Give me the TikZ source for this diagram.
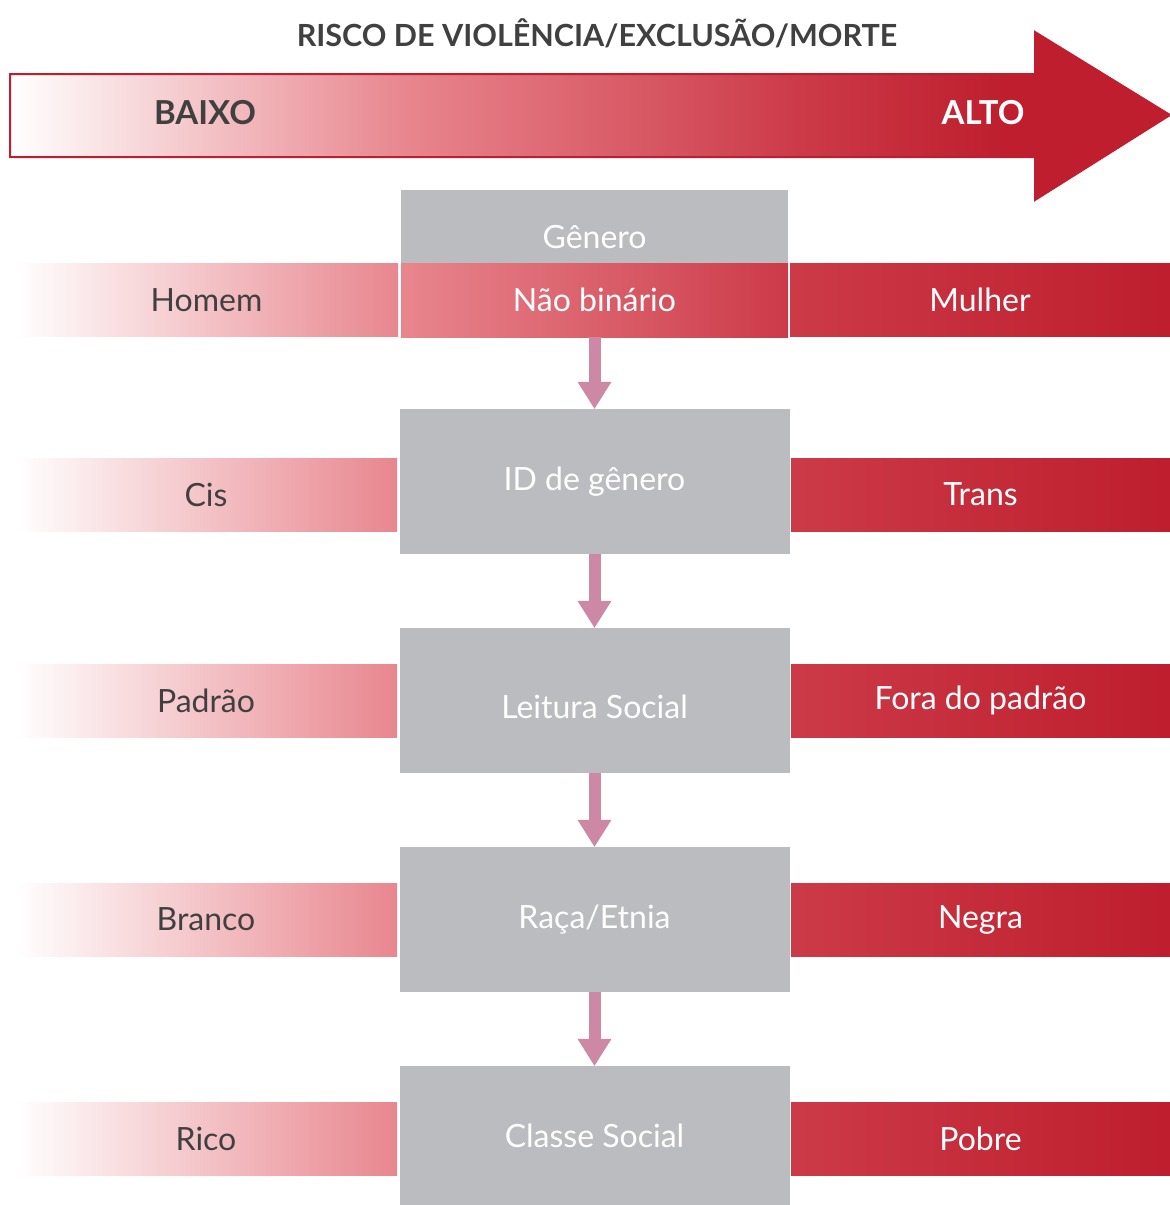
\documentclass[tikz,border=0pt]{standalone}
\usepackage{fontspec}
\setmainfont{Lato}
\usetikzlibrary{arrows.meta}

\definecolor{riscoA}{HTML}{E8868E}
\definecolor{riscoB}{HTML}{CC3A48}
\definecolor{riscoC}{HTML}{BE1E2D}
\definecolor{cinza}{HTML}{BBBCC0}
\definecolor{escuro}{HTML}{404040}
\definecolor{seta}{HTML}{CC88A5}

\pgfdeclarehorizontalshading{risco}{100bp}{color(0bp)=(white); color(25bp)=(white);
  color(42bp)=(riscoA); color(59bp)=(riscoB); color(68bp)=(riscoC); color(100bp)=(riscoC)}

\begin{document}
\begin{tikzpicture}[x=1pt, y=-1pt,
    every node/.style={inner sep=0pt, text=white, font=\fontsize{32}{38}\selectfont},
    caixa/.style={fill=cinza, minimum width=390pt, minimum height=145pt},
    baixo/.style={left color=white, right color=riscoA, minimum width=382pt, minimum height=73pt, text=escuro},
    meio/.style={left color=riscoA, right color=riscoB, minimum width=387pt, minimum height=74pt},
    alto/.style={left color=riscoB, right color=riscoC, minimum width=379pt, minimum height=73pt},
    fluxo/.style={draw=seta, line width=12pt, -{Triangle[width=34pt, length=27pt, line width=0pt]}}]
			\useasboundingbox (0,0) rectangle (1170,1205);

			% seta grande do risco
			\path[shading=risco, draw=riscoC, line width=2pt]
				(10,74) -- (1035,74) -- (1035,32) -- (1170,115) -- (1035,200) -- (1035,157) -- (10,157) -- cycle;
			\node[text=escuro, font=\fontsize{30.5}{36}\bfseries] (titulo) at (597,33) {RISCO DE VIOLÊNCIA/EXCLUSÃO/MORTE};
			\node[text=escuro, font=\fontsize{33}{38}\bfseries] (baixotxt) at (205,113) {BAIXO};
			\node[font=\fontsize{33}{38}\bfseries] (altotxt) at (983,113) {ALTO};

			% linha 1
			\node[fill=cinza, minimum width=387pt, text height=58pt, text depth=15pt] (genero) at (594.5,226.5) {Gênero};
			\node[meio] (naobin) at (594.5,300) {Não binário};
			\node[baixo, minimum width=383pt] (homem) at (206.5,300) {Homem};
			\node[alto, minimum width=380pt] (mulher) at (980,300) {Mulher};

			% linha 2
			\node[caixa] (idgenero) at (594.5,481.5) {ID de gênero};
			\node[baixo] (cis) at (206,494.5) {Cis};
			\node[alto] (trans) at (980.5,494.5) {Trans};

			% linha 3
			\node[caixa, text height=90pt, text depth=55pt] (leitura) at (594.5,700.5) {Leitura Social};
			\node[baixo] (padrao) at (206,700.5) {Padrão};
			\node[alto] (fora) at (980.5,700.5) {Fora do padrão};

			% linha 4
			\node[caixa] (raca) at (594.5,919.5) {Raça/Etnia};
			\node[baixo] (branco) at (206,919.5) {Branco};
			\node[alto] (negra) at (980.5,919.5) {Negra};

			% linha 5
			\node[caixa, minimum height=139pt] (classe) at (594.5,1135.5) {Classe Social};
			\node[baixo] (rico) at (206,1138.5) {Rico};
			\node[alto] (pobre) at (980.5,1138.5) {Pobre};

			\path (naobin) edge[fluxo] (idgenero);
			\path (idgenero) edge[fluxo] (leitura);
			\path (leitura) edge[fluxo] (raca);
			\path (raca) edge[fluxo] (classe);
			\end{tikzpicture}
\end{document}
